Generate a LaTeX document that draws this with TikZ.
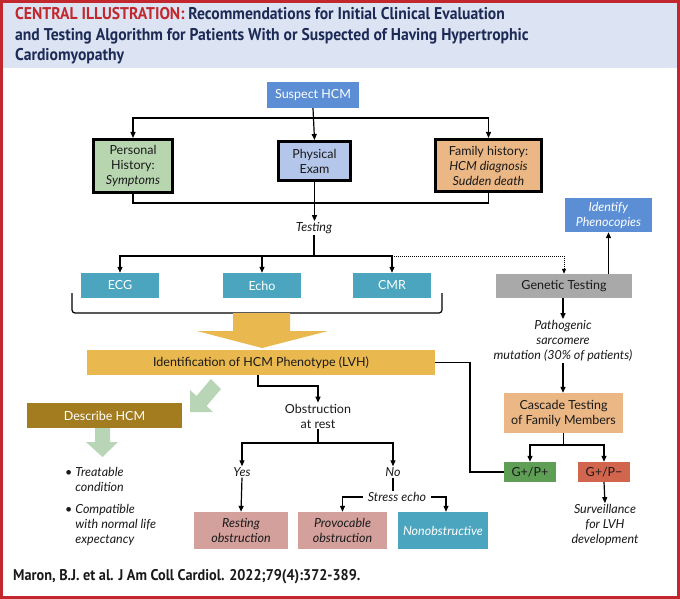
\documentclass[tikz,border=0pt]{standalone}
\usepackage{fontspec}
\setmainfont{Lato}
\newfontfamily\titlefont[FakeStretch=0.92]{PT Sans}
\usetikzlibrary{arrows.meta}
\definecolor{headbg}{HTML}{DCE3F2}
\definecolor{framered}{HTML}{C1272D}
\definecolor{navy}{HTML}{1C2A56}
\definecolor{txt}{HTML}{1A1A1A}
\definecolor{suspblue}{HTML}{5B8ED4}
\definecolor{persgreen}{HTML}{B7D6B0}
\definecolor{physblue}{HTML}{B4C6EA}
\definecolor{famtan}{HTML}{EAB785}
\definecolor{teal}{HTML}{4BA5BF}
\definecolor{identyel}{HTML}{E9B84E}
\definecolor{descbrown}{HTML}{A27C1F}
\definecolor{lgreen}{HTML}{B8D5B5}
\definecolor{rose}{HTML}{D3A09C}
\definecolor{gtgray}{HTML}{A9A9A9}
\definecolor{gppgreen}{HTML}{5E9E55}
\definecolor{gpmred}{HTML}{D2654E}
\newcommand\bodyf{\fontsize{12.5}{15}\selectfont}
\tikzset{
  box/.style={inner sep=0pt, align=center, font=\bodyf, text=txt},
  thickbox/.style={box, draw=black, line width=3pt},
  conn/.style={line width=1.2pt, draw=black},
  arr/.style={conn, -{Triangle[length=6pt,width=5pt]}},
  lbl/.style={align=center, font=\bodyf\itshape, inner sep=1pt, text=txt},
}
\begin{document}
\begin{tikzpicture}[x=1pt,y=-1pt]
\useasboundingbox (0,0) rectangle (680,599);
\fill[white] (0,0) rectangle (680,599);
\fill[headbg] (0,0) rectangle (680,68);
\draw[framered, line width=3pt] (1.5,1.5) rectangle (678.5,597.5);
% title
\node[anchor=north west, align=left, inner sep=0pt, text=navy,
      font=\titlefont\bfseries\fontsize{17}{20.5}\selectfont] (title) at (15,7.5)
 {\textcolor{framered}{CENTRAL ILLUSTRATION:} Recommendations for Initial Clinical Evaluation\\
  and Testing Algorithm for Patients With or Suspected of Having Hypertrophic\\
  Cardiomyopathy};
% footer
\node[anchor=west, inner sep=0pt, text=txt, font=\titlefont\bfseries\fontsize{15.5}{18}\selectfont] (cite)
  at (13,577) {Maron, B.J. et al. J Am Coll Cardiol. 2022;79(4):372-389.};

% boxes
\node[box, fill=suspblue, text=white, minimum width=92pt, minimum height=26pt] (suspect) at (313,95) {Suspect HCM};
\node[thickbox, fill=persgreen, minimum width=79pt, minimum height=53pt] (personal) at (133,166) {Personal\\History:\\\textit{Symptoms}};
\node[thickbox, fill=physblue, minimum width=72pt, minimum height=39pt] (physical) at (314.5,161) {Physical\\Exam};
\node[thickbox, fill=famtan, minimum width=106pt, minimum height=52pt] (family) at (488.5,165.5) {Family history:\\\textit{HCM diagnosis}\\\textit{Sudden death}};
\node[lbl] (testing) at (314,228) {Testing};
\node[box, fill=teal, text=white, minimum width=78pt, minimum height=25pt] (ecg) at (120,285.5) {ECG};
\node[box, fill=teal, text=white, minimum width=78pt, minimum height=25pt] (echo) at (262,285.5) {Echo};
\node[box, fill=teal, text=white, minimum width=78pt, minimum height=25pt] (cmr) at (392,285.5) {CMR};
\node[box, fill=identyel, minimum width=348pt, minimum height=25pt] (ident) at (261,362.5) {Identification of HCM Phenotype (LVH)};
\node[box, fill=descbrown, text=white, minimum width=155pt, minimum height=25pt] (describe) at (104.5,415.5) {Describe HCM};
\node[box, inner sep=1pt] (obstr) at (318,416) {Obstruction\\at rest};
\node[lbl] (yes) at (242,472) {Yes};
\node[lbl] (no) at (393,472) {No};
\node[lbl] (stress) at (397,497) {Stress echo};
\node[box, fill=rose, minimum width=94pt, minimum height=37pt] (resting) at (241,530.5) {\textit{Resting}\\\textit{obstruction}};
\node[box, fill=rose, minimum width=89pt, minimum height=37pt] (provoc) at (342.5,530.5) {\textit{Provocable}\\\textit{obstruction}};
\node[box, fill=teal, text=white, minimum width=90pt, minimum height=37pt] (nonobs) at (443,530.5) {\textit{Nonobstructive}};
\node[box, fill=gtgray, minimum width=136pt, minimum height=24pt] (genetic) at (564,286) {Genetic Testing};
\node[box, fill=suspblue, text=white, minimum width=87pt, minimum height=34pt] (identify) at (608.5,215) {\textit{Identify}\\\textit{Phenocopies}};
\node[lbl] (patho) at (563,341) {Pathogenic\\sarcomere\\mutation (30\% of patients)};
\node[box, fill=famtan, minimum width=119pt, minimum height=40pt] (cascade) at (563.5,413) {Cascade Testing\\of Family Members};
\node[box, fill=gppgreen, minimum width=52pt, minimum height=20pt] (gpp) at (530,472) {G+/P+};
\node[box, fill=gpmred, minimum width=52pt, minimum height=20pt] (gpm) at (604,472) {G+/P\textminus};
\node[lbl] (surv) at (605,525) {Surveillance\\for LVH\\development};
\node[lbl, align=left, anchor=north west] (bul) at (64,466)
 {\textbullet\ Treatable\\\hphantom{\textbullet\ }condition\\[7pt]\textbullet\ Compatible\\\hphantom{\textbullet\ }with normal life\\\hphantom{\textbullet\ }expectancy};

% junction coordinates
\coordinate (j1) at (313,118);
\coordinate (j2) at (314.5,203);
\coordinate (j3) at (314,256);
\coordinate (j4) at (392,256);
\coordinate (k1) at (470,362.5);
\coordinate (k2) at (318,386);
\coordinate (j5) at (318,443);
\coordinate (j6) at (563.5,445);

% connectors
\draw[arr] (suspect.south) -- (physical.north);
\draw[arr] (j1) -| (personal.north);
\draw[arr] (j1) -| (family.north);
\draw[conn] (personal.south) |- (j2);
\draw[conn] (family.south) |- (j2);
\draw[arr] (physical.south) -- (physical.south |- testing.north);
\draw[conn] (testing.south) -- (j3);
\draw[arr] (j3) -| (ecg.north);
\draw[arr] (j3) -| (echo.north);
\draw[arr] (j3) -| (cmr.north);
\draw[line width=1pt, densely dotted, -{Triangle[length=5pt,width=4pt]}] (j4) -| (genetic.north);
\draw[conn, rounded corners=3pt] (72,293) -- (72,313) -- (442,313) -- (442,293);
\fill[identyel] (233,313) -- (290,313) -- (290,331) -- (328,331) -- (262,348) -- (197,331) -- (233,331) -- cycle;
\draw[conn] (ident.east) -- (k1) |- (gpp.west);
\draw[conn] (ident.south -| 258,0) |- (k2);
\draw[arr] (258,386) -| (obstr.north);
\fill[lgreen] (190,412) -- (190,390) -- (196.5,396) -- (211,379) -- (221,389) -- (206.5,406) -- (213,412) -- cycle;
\fill[lgreen] (95,428) -- (110,428) -- (110,442) -- (118,442) -- (102.5,457) -- (86,442) -- (95,442) -- cycle;
\draw[conn] (obstr.south) -- (j5);
\draw[arr] (j5) -| (yes.north);
\draw[arr] (j5) -| (no.north);
\draw[arr] (yes.south) -- (resting.north);
\draw[conn] (no.south) -- (no.south |- stress.north);
\draw[arr] ([xshift=-4pt]stress.west) -| (provoc.north);
\draw[arr] ([xshift=4pt]stress.east) -| ([xshift=3pt]nonobs.north);
\draw[arr] (identify.south |- genetic.north) -- (identify.south);
\draw[arr] (genetic.south -| patho.north) -- (patho.north);
\draw[arr] (patho.south) -- (patho.south |- cascade.north);
\draw[conn] (cascade.south) -- (j6);
\draw[arr] (j6) -| (gpp.north);
\draw[arr] (j6) -| (gpm.north);
\draw[arr] (gpm.south) -- (surv.north);
\end{tikzpicture}
\end{document}
